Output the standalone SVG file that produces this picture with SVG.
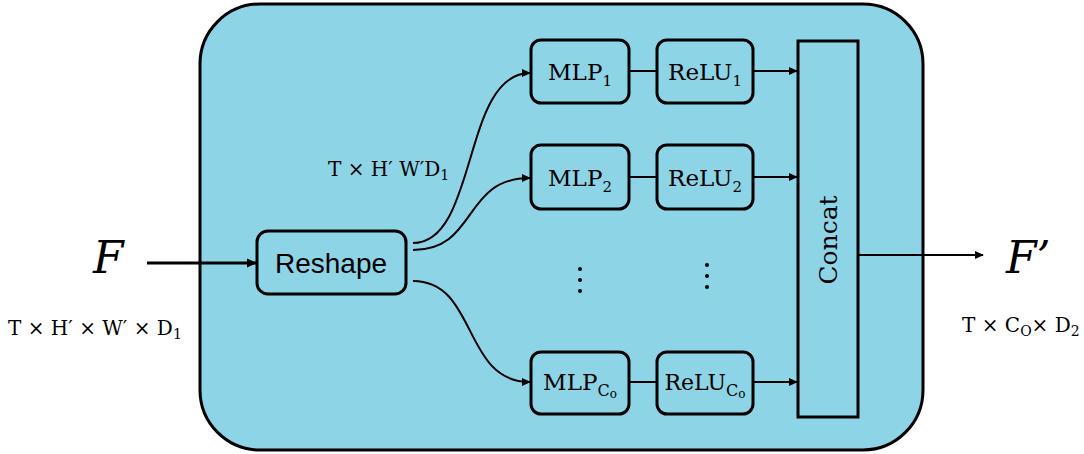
<svg xmlns="http://www.w3.org/2000/svg" width="1084" height="454" viewBox="0 0 1084 454">
<style>
.box{fill:#8DD4E6;stroke:#000;stroke-width:3}
.node{fill:#8DD4E6;stroke:#000;stroke-width:3}
.con{fill:none;stroke:#000;stroke-width:2}
.thick{stroke-width:3}
.ser{font-family:"DejaVu Serif","Liberation Serif",serif;fill:#000}
.lbl{font-family:"DejaVu Serif","Liberation Serif",serif;fill:#000;font-size:20px}
.sans{font-family:"Liberation Sans",Arial,sans-serif;fill:#000}
</style>
<defs>
<marker id="ah" viewBox="0 0 10 10" refX="9" refY="5" markerWidth="9" markerHeight="9" orient="auto" markerUnits="userSpaceOnUse">
<path d="M0,0.5 L10,5 L0,9.5 z" fill="#000"/>
</marker>
<marker id="ahb" viewBox="0 0 10 10" refX="9" refY="5" markerWidth="10" markerHeight="10" orient="auto" markerUnits="userSpaceOnUse">
<path d="M0,0.5 L10,5 L0,9.5 z" fill="#000"/>
</marker>
</defs>
<rect id="container" class="box" x="200" y="4" width="723" height="446" rx="60" ry="60"/>

<g id="reshape"><rect class="node" x="257" y="231" width="149" height="63" rx="11"/><text class="sans" x="331" y="273" font-size="28" text-anchor="middle">Reshape</text></g>
<g id="mlp1"><rect class="node" x="531" y="40" width="98" height="63" rx="10"/><text class="ser" x="580" y="80" font-size="23" text-anchor="middle">MLP<tspan font-size="15" dy="6">1</tspan></text></g>
<g id="relu1"><rect class="node" x="657" y="40" width="96" height="63" rx="10"/><text class="ser" x="705" y="80" font-size="23" text-anchor="middle">ReLU<tspan font-size="15" dy="6">1</tspan></text></g>
<g id="mlp2"><rect class="node" x="531" y="145" width="98" height="64" rx="10"/><text class="ser" x="580" y="186" font-size="23" text-anchor="middle">MLP<tspan font-size="15" dy="6">2</tspan></text></g>
<g id="relu2"><rect class="node" x="657" y="145" width="96" height="64" rx="10"/><text class="ser" x="705" y="186" font-size="23" text-anchor="middle">ReLU<tspan font-size="15" dy="6">2</tspan></text></g>
<g id="mlpco"><rect class="node" x="531" y="352" width="98" height="62" rx="10"/><text class="ser" x="580" y="390" font-size="23" text-anchor="middle">MLP<tspan font-size="16" dy="6">C</tspan><tspan font-size="12" dy="2">o</tspan></text></g>
<g id="reluco"><rect class="node" x="657" y="352" width="96" height="62" rx="10"/><text class="ser" x="705" y="390" font-size="22" text-anchor="middle">ReLU<tspan font-size="16" dy="6">C</tspan><tspan font-size="12" dy="2">o</tspan></text></g>
<g id="concat"><rect class="node" x="798" y="41" width="60" height="376" rx="0"/><text class="ser" transform="translate(837,240) rotate(-90)" font-size="25" text-anchor="middle">Concat</text></g>

<g id="dots">
<circle cx="580" cy="269" r="2"/><circle cx="580" cy="280" r="2"/><circle cx="580" cy="291" r="2"/>
<circle cx="707" cy="265" r="2"/><circle cx="707" cy="276" r="2"/><circle cx="707" cy="287" r="2"/>
</g>

<g id="connectors">
<line class="con thick" x1="147" y1="263" x2="256" y2="263" marker-end="url(#ahb)"/>
<path class="con" d="M413,243 C478,243 462,73 530,73" marker-end="url(#ah)"/>
<path class="con" d="M413,250 C478,250 462,178 530,178" marker-end="url(#ah)"/>
<path class="con" d="M413,281 C478,281 462,382 530,382" marker-end="url(#ah)"/>
<line class="con" x1="629" y1="71" x2="657" y2="71"/>
<line class="con" x1="629" y1="177" x2="657" y2="177"/>
<line class="con" x1="629" y1="382" x2="657" y2="382"/>
<line class="con" x1="753" y1="71" x2="797" y2="71" marker-end="url(#ah)"/>
<line class="con" x1="753" y1="177" x2="797" y2="177" marker-end="url(#ah)"/>
<line class="con" x1="753" y1="382" x2="797" y2="382" marker-end="url(#ah)"/>
<line class="con" x1="858" y1="255" x2="983" y2="255" marker-end="url(#ah)"/>
</g>

<g id="labels">
<text class="ser" x="93" y="273" font-size="44" font-style="italic" font-family="Liberation Serif, serif">F</text>
<text class="ser" x="1006" y="273" font-size="44" font-style="italic" font-family="Liberation Serif, serif">F’</text>
<text class="lbl" x="8" y="335">T × H′ × W′ × D<tspan font-size="14" dy="4">1</tspan></text>
<text class="lbl" x="328" y="176">T × H′ W′D<tspan font-size="14" dy="4">1</tspan></text>
<text class="lbl" x="962" y="332">T × C<tspan font-size="14" dy="4">O</tspan><tspan dy="-4">× D</tspan><tspan font-size="14" dy="4">2</tspan></text>
</g>
</svg>
